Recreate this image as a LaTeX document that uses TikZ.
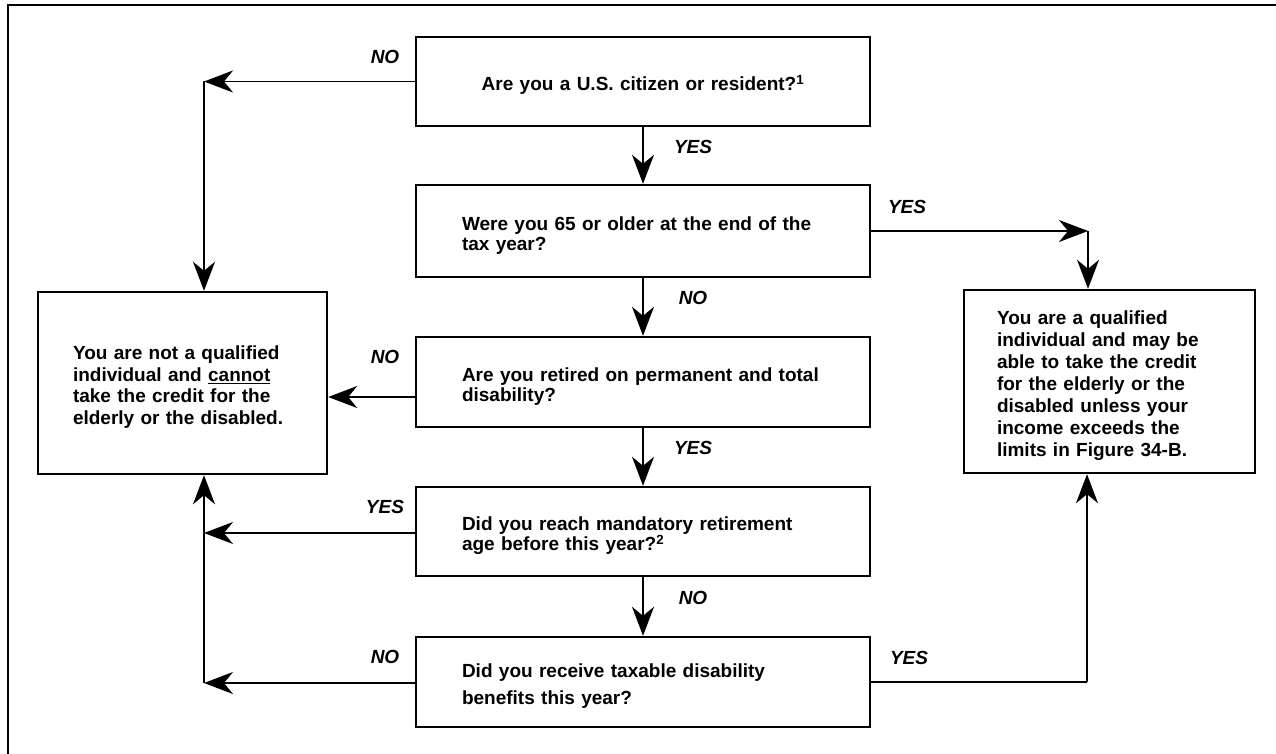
\documentclass[tikz,border=0pt]{standalone}
\usepackage{fontspec}
\setmainfont{Liberation Sans}
\usetikzlibrary{arrows.meta,calc}
\begin{document}
\begin{tikzpicture}[x=1pt,y=-1pt,
  box/.style={draw, line width=2.4pt, inner sep=0pt, align=left,
    font=\fontsize{19}{20}\selectfont\bfseries,
    execute at begin node={\rule{0pt}{22pt}}},
  lbl/.style={font=\fontsize{19}{20}\selectfont\bfseries\itshape, inner sep=0pt},
  conn/.style={line width=1.8pt},
  tip/.style={-{Stealth[length=29pt,width=22pt,inset=9pt]}}
]
\useasboundingbox (0,0) rectangle (1276,754);
\fill[white] (0,0) rectangle (1276,754);
\draw[line width=2.5pt] (8,754) -- (8,5) -- (1276,5);

% central question boxes
\node[box, align=center, minimum width=454pt, minimum height=89pt, text width=362pt] (b1) at (643,81.5)
  {Are you a U.S. citizen or resident?\textsuperscript{1}};
\node[box, minimum width=454pt, minimum height=92pt, text width=362pt] (b2) at (643,231)
  {Were you 65 or older at the end of the\\tax year?};
\node[box, minimum width=454pt, minimum height=90pt, text width=362pt] (b3) at (643,382)
  {Are you retired on permanent and total\\disability?};
\node[box, minimum width=454pt, minimum height=89pt, text width=362pt] (b4) at (643,531.5)
  {Did you reach mandatory retirement\\age before this year?\textsuperscript{2}};
\node[box, minimum width=454pt, minimum height=90pt, text width=362pt,
  font=\fontsize{19}{27}\selectfont\bfseries] (b5) at (643,682)
  {Did you receive taxable disability\\benefits this year?};

% outcome boxes
\node[box, minimum width=289pt, minimum height=182pt, text width=219pt,
  font=\fontsize{19}{21.5}\selectfont\bfseries] (nq) at (182.5,383)
  {You are not a qualified\\individual and \underline{cannot}\\take the credit for the\\elderly or the disabled.};
\node[box, minimum width=291pt, minimum height=183pt, text width=225pt,
  font=\fontsize{19}{22}\selectfont\bfseries] (q) at (1109.5,381.5)
  {You are a qualified\\individual and may be\\able to take the credit\\for the elderly or the\\disabled unless your\\income exceeds the\\limits in Figure 34-B.};

% central arrows
\draw[conn,tip] (b1.south) -- (b2.north);
\draw[conn,tip] (b2.south) -- (b3.north);
\draw[conn,tip] (b3.south) -- (b4.north);
\draw[conn,tip] (b4.south) -- (b5.north);

% left side
\coordinate (c1) at (204,81.5);
\draw[conn,tip] (b1.west) -- (c1);
\draw[conn,tip] (c1) -- (c1 |- nq.north);
\draw[conn,tip] ([yshift=-15pt]b3.west) -- ([yshift=-15pt]b3.west -| nq.east);
\coordinate (c4) at (204,533);
\draw[conn,tip] (b4.west |- c4) -- (c4);
\coordinate (c5) at (204,683);
\draw[conn,tip] (b5.west |- c5) -- (c5);
\draw[conn,tip] (c5) -- (c5 |- nq.south);

% right side
\coordinate (c2) at (1088,231);
\draw[conn,tip] (b2.east) -- (c2);
\draw[conn,tip] (c2) -- (c2 |- q.north);
\coordinate (c6) at (1087,682);
\draw[conn] (b5.east) -- (c6);
\draw[conn,tip] (c6) -- (c6 |- q.south);

% labels
\node[lbl] (l1) at (385,57) {NO};
\node[lbl] (l2) at (693,147) {YES};
\node[lbl] (l3) at (907,207) {YES};
\node[lbl] (l4) at (693,298) {NO};
\node[lbl] (l5) at (385,357) {NO};
\node[lbl] (l6) at (693,448) {YES};
\node[lbl] (l7) at (385,507) {YES};
\node[lbl] (l8) at (693,598) {NO};
\node[lbl] (l9) at (385,657) {NO};
\node[lbl] (l10) at (909,658) {YES};
\end{tikzpicture}
\end{document}
